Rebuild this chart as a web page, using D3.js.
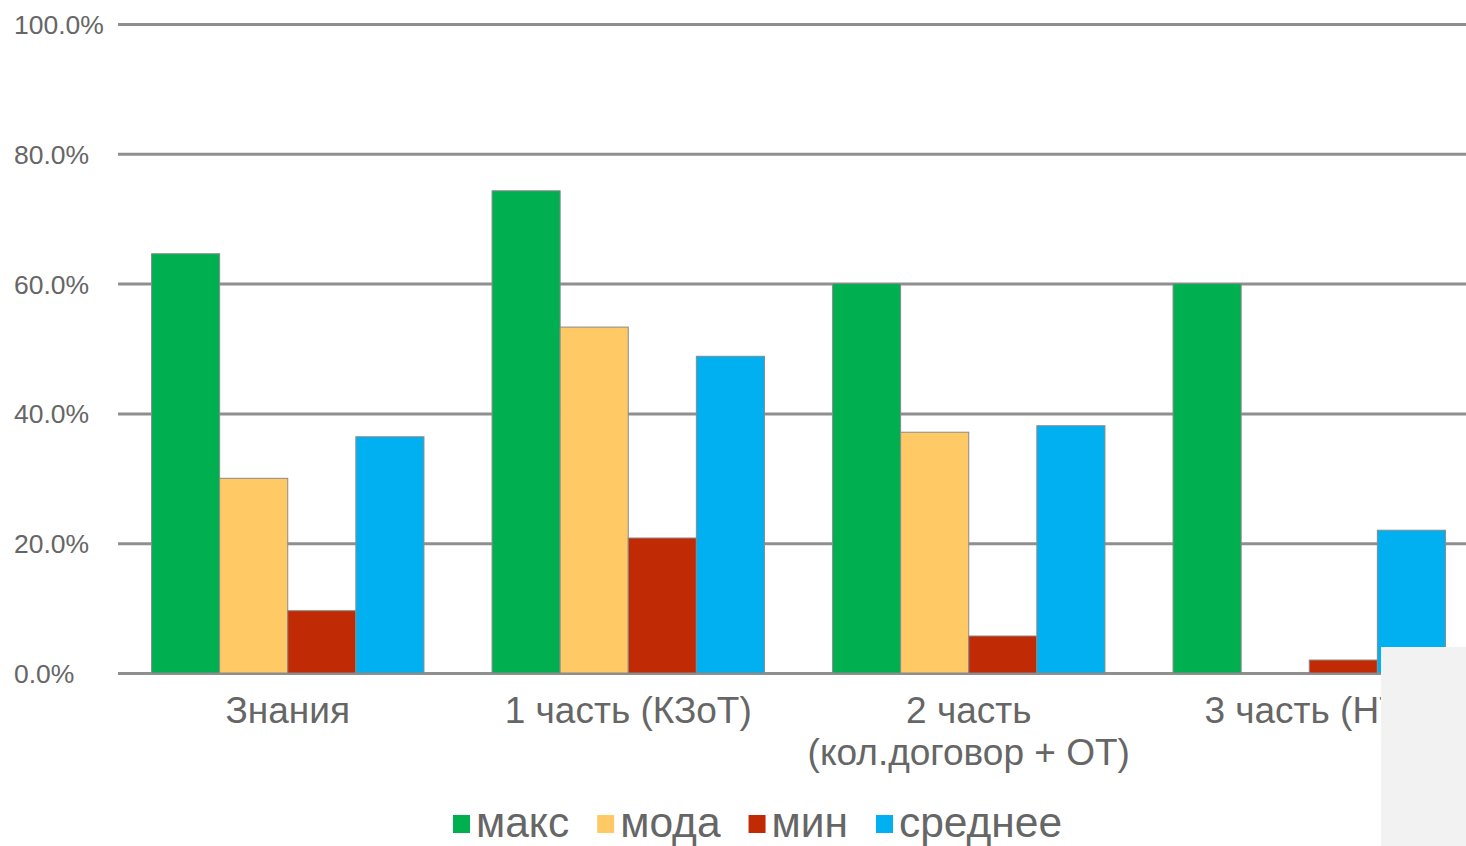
<!DOCTYPE html>
<html>
<head>
<meta charset="utf-8">
<script src="https://cdn.jsdelivr.net/npm/d3@7"></script>
<style>
  body { margin: 0; background: #fff; }
  svg { display: block; font-family: "Liberation Sans", Arial, sans-serif; }
</style>
</head>
<body>
<script>
// chart data
var categories = ["Знания", "1 часть (КЗоТ)", "2 часть|(кол.договор + ОТ)", "3 часть (НТ)"];
var seriesNames = ["макс", "мода", "мин", "среднее"];
var seriesColors = ["#00b050", "#ffc966", "#c02a05", "#00b0f0"];
var maks    = [0.646, 0.743, 0.600, 0.600];
var moda    = [0.300, 0.533, 0.371, 0.000];
var minim   = [0.096, 0.208, 0.057, 0.020];
var srednee = [0.364, 0.488, 0.381, 0.220];
var yTicks  = [0, 0.2, 0.4, 0.6, 0.8, 1.0];

var values = [maks, moda, minim, srednee];

var W = 1466, H = 846;

var svg = d3.select("body").append("svg")
    .attr("width", W)
    .attr("height", H);

//scales
var x0 = d3.scaleBand()
    .domain(categories)
    .range([117.5, 1479.5])
    .paddingInner(0.2)
    .paddingOuter(0.1);

var x1 = d3.scaleBand()
    .domain(seriesNames)
    .range([0, x0.bandwidth()]);

var y = d3.scaleLinear()
    .domain([0, 1])
    .range([673, 24]);

//gridlines + tick labels
var axis = svg.append("g")
    .attr("transform", "translate(118,0)")
    .call(d3.axisLeft(y)
        .tickValues(yTicks)
        .tickSize(-(W - 118))
        .tickFormat(d3.format(".1%")));

axis.select(".domain").remove();
axis.selectAll(".tick line")
    .attr("stroke", "#8f8f8f")
    .attr("stroke-width", 3);
axis.selectAll(".tick text")
    .attr("x", -104)
    .attr("dy", "0.36em")
    .attr("text-anchor", "start")
    .attr("fill", "#666")
    .attr("font-size", 26.5);

//bars
var groups = svg.selectAll(".grp").data(categories).enter()
    .append("g")
    .attr("class", "grp")
    .attr("transform", function(d){ return "translate(" + x0(d) + ",0)"; });

groups.selectAll("rect")
    .data(function(d, i){
        return seriesNames.map(function(s, j){ return {s: s, v: values[j][i], c: seriesColors[j]}; });
    })
    .enter().append("rect")
    .filter(function(d){ return d.v > 0; })
    .attr("x", function(d){ return x1(d.s); })
    .attr("y", function(d){ return y(d.v); })
    .attr("width", x1.bandwidth())
    .attr("height", function(d){ return y(0) - y(d.v); })
    .attr("fill", function(d){ return d.c; })
    .attr("stroke", "#8a8a8a")
    .attr("stroke-width", 1);

//category labels (| splits lines)
svg.selectAll(".cat").data(categories).enter()
    .append("text")
    .attr("class", "cat")
    .attr("text-anchor", "middle")
    .attr("fill", "#666")
    .attr("font-size", 37)
    .each(function(d){
        var t = d3.select(this);
        d.split("|").forEach(function(line, k){
            t.append("tspan")
                .attr("x", x0(d) + x0.bandwidth() / 2)
                .attr("y", 723 + k * 42)
                .text(line);
        });
    });

//legend
var legend = svg.append("g");
var lx = 453;
seriesNames.forEach(function(s, i){
    legend.append("rect")
        .attr("x", lx)
        .attr("y", 815)
        .attr("width", 17)
        .attr("height", 18)
        .attr("fill", seriesColors[i]);
    var t = legend.append("text")
        .attr("x", lx + 23)
        .attr("y", 837)
        .attr("fill", "#666")
        .attr("font-size", 42.5)
        .text(s);
    lx = lx + 23 + t.node().getComputedTextLength() + 28;
});

//light box that covers the bottom right corner
svg.append("rect")
    .attr("x", 1381)
    .attr("y", 647)
    .attr("width", W - 1381)
    .attr("height", H - 647)
    .attr("fill", "#f2f2f2");
</script>
</body>
</html>
